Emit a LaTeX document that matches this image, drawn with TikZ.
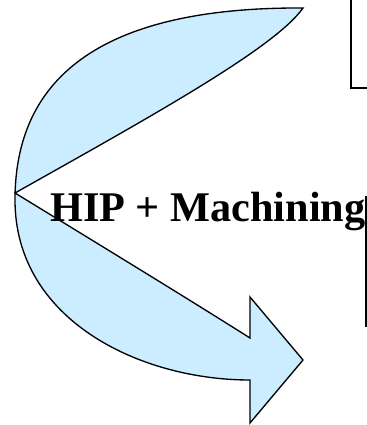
\documentclass[tikz,border=0pt]{standalone}
\usepackage{fontspec}
\setmainfont{Liberation Serif}
\definecolor{arrowfill}{RGB}{204,236,255}
\begin{document}
\begin{tikzpicture}[x=0.75pt,y=0.75pt,yscale=-1,xscale=1]
\useasboundingbox (0,0) rectangle (367,425);

%Shape: Curved Right Arrow [id:curvedarrow]
\draw  [fill=arrowfill, line width=1, line join=miter] (15,193) .. controls (150,117) and (275,48) .. (303,8) .. controls (120,7) and (15,65) .. (15,200) .. controls (15,320) and (140,380) .. (250,380) -- (250,423) -- (303,360) -- (250,297) -- (250,338) .. controls (190,300) and (100,245) .. (15,193) -- cycle ;
%Shape: Rectangle [id:topbox]
\draw  [line width=1]  (351,0) -- (351,88) -- (367,88) ;
%Straight Lines [id:sidebox]
\draw  [line width=1]  (366,196) -- (366,327) ;

% Text Node
\draw (50,221) node (hip) [anchor=base west] [inner sep=0pt]   [align=left] {\fontsize{31.7}{38}\selectfont\bfseries HIP + Machining};

\end{tikzpicture}
\end{document}
